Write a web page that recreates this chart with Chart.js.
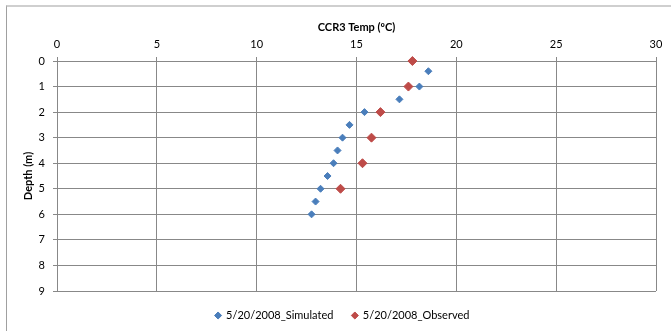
<!DOCTYPE html>
<html>
<head>
<meta charset="utf-8">
<script src="https://cdn.jsdelivr.net/npm/chart.js@4"></script>
<style>
    body { margin: 0; background: #fff; }
    #frame { position: absolute; left: 6px; top: 5px; width: 720px; height: 400px;
             border-top: 2px solid #cfcfcf; border-left: 1px solid #a0a0a0; }
    #wrap { position: absolute; left: 0; top: 0; width: 671px; height: 331px; }
</style>
</head>
<body>
<div id="frame"></div>
<div id="wrap"><canvas id="grafico" width="671" height="331"></canvas></div>
<script>
// dados
const profSimulado = [0.4, 1, 1.5, 2, 2.5, 3, 3.5, 4, 4.5, 5, 5.5, 6];
const tempSimulado = [18.6, 18.15, 17.15, 15.4, 14.65, 14.3, 14.05, 13.85, 13.55, 13.2, 12.95, 12.75];
const profObservado = [0, 1, 2, 3, 4, 5];
const tempObservado = [17.8, 17.6, 16.2, 15.75, 15.3, 14.2];
const nomeSimulado = "5/20/2008_Simulated";
const nomeObservado = "5/20/2008_Observed";

const fonte = "Lato, 'Open Sans', sans-serif";

function pontos(temps, profs) {
    return temps.map((t, i) => ({ x: t, y: profs[i] }));
}

const ctx = document.getElementById("grafico").getContext("2d");
window.myChart = new Chart(ctx, {
    type: 'scatter',
    data: {
        datasets: [{
            label: nomeSimulado,
            data: pontos(tempSimulado, profSimulado),
            backgroundColor: '#4a7ebb',
            borderColor: '#4a7ebb',
            borderWidth: 1,
            pointStyle: 'rectRot',
            pointRadius: 3.5,
            clip: false
        }, {
            label: nomeObservado,
            data: pontos(tempObservado, profObservado),
            backgroundColor: '#be4b48',
            borderColor: '#be4b48',
            borderWidth: 1,
            pointStyle: 'rectRot',
            pointRadius: 4.5,
            clip: false
        }]
    },
    options: {
        responsive: false,
        animation: false,
        // padding esquerdo maior so para centralizar a legenda como no original
        layout: { padding: { left: 29, top: 0, right: 15, bottom: 0 } },
        plugins: {
            legend: {
                display: true,
                position: 'bottom',
                labels: {
                    usePointStyle: true,
                    boxWidth: 5,
                    boxHeight: 5,
                    padding: 19,
                    color: '#000',
                    font: { family: fonte, size: 11 }
                }
            },
            tooltip: { enabled: false }
        },
        scales: {
            x: {
                type: 'linear',
                position: 'top',
                min: 0,
                max: 30,
                ticks: { stepSize: 5, color: '#000', padding: 6, font: { family: fonte, size: 11 } },
                grid: { color: '#888', tickLength: 4 },
                border: { color: '#888' },
                title: {
                    display: true,
                    text: 'CCR3 Temp (ºC)',
                    color: '#000',
                    padding: { top: 21, bottom: 0 },
                    font: { family: fonte, size: 11, weight: 'bold' }
                },
                afterFit: (s) => { s.height = 61; }
            },
            y: {
                type: 'linear',
                reverse: true,
                min: 0,
                max: 9,
                ticks: { stepSize: 1, color: '#000', padding: 8, font: { family: fonte, size: 11 } },
                grid: { color: '#888', tickLength: 4 },
                border: { color: '#888' },
                title: {
                    display: true,
                    text: 'Depth (m)',
                    color: '#000',
                    padding: { top: -7, bottom: 0 },
                    font: { family: fonte, size: 11, weight: 'bold' }
                },
                afterFit: (s) => { s.width = 28; }
            }
        }
    }
});
</script>
</body>
</html>
